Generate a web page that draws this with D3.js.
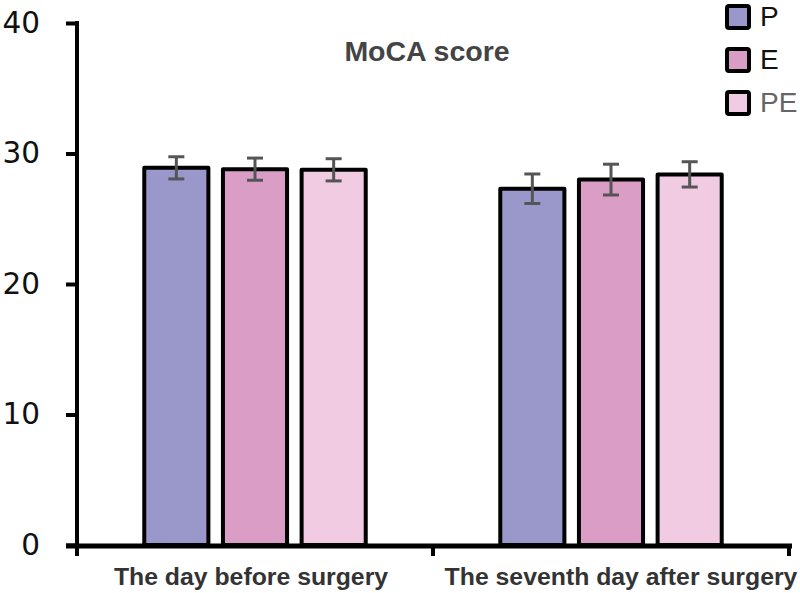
<!DOCTYPE html>
<html>
<head>
<meta charset="utf-8">
<script src="https://cdn.jsdelivr.net/npm/d3@7/dist/d3.min.js"></script>
<style>
  html, body { margin: 0; padding: 0; background: #fff; }
  svg { display: block; }
</style>
</head>
<body>
<svg id="chart" width="800" height="593"></svg>
<script>
// ---- data ----
const categories = ["The day before surgery", "The seventh day after surgery"];
const seriesNames = ["P", "E", "PE"];
const valuesP  = [28.9, 27.3];
const valuesE  = [28.8, 28.0];
const valuesPE = [28.75, 28.4];
const errP  = [0.85, 1.13];
const errE  = [0.85, 1.18];
const errPE = [0.85, 0.97];
const yTicks = [0, 10, 20, 30, 40];
const colors = ["#9a98cb", "#d99dc6", "#f0cbe2"];

const seriesValues = [valuesP, valuesE, valuesPE];
const seriesErr = [errP, errE, errPE];

const svg = d3.select("#chart");

const x0 = d3.scaleBand().domain(categories).range([77, 789]).padding(0);
const innerPad = 60;
const x1 = d3.scaleBand().domain(seriesNames)
  .range([innerPad, x0.bandwidth() - innerPad])
  .paddingInner(0.185).paddingOuter(0.0925);
const y = d3.scaleLinear().domain([0, 40]).range([545, 23]);
const color = d3.scaleOrdinal().domain(seriesNames).range(colors);

const data = [];
categories.forEach((c, ci) => {
  seriesNames.forEach((s, si) => {
    data.push({cat: c, s: s, v: seriesValues[si][ci], e: seriesErr[si][ci]});
  });
});

// bars
svg.append("g").selectAll("rect").data(data).join("rect")
  .attr("x", d => x0(d.cat) + x1(d.s))
  .attr("y", d => y(d.v))
  .attr("width", x1.bandwidth())
  .attr("height", d => y(0) - y(d.v))
  .attr("fill", d => color(d.s))
  .attr("stroke", "#000")
  .attr("stroke-width", 4)
  .attr("stroke-linejoin", "round");

// error bars
const eb = svg.append("g").attr("stroke", "#555").attr("stroke-width", 3);
data.forEach(d => {
  const cx = x0(d.cat) + x1(d.s) + x1.bandwidth() / 2;
  eb.append("line").attr("x1", cx).attr("x2", cx).attr("y1", y(d.v + d.e)).attr("y2", y(d.v - d.e));
  eb.append("line").attr("x1", cx - 8).attr("x2", cx + 8).attr("y1", y(d.v + d.e)).attr("y2", y(d.v + d.e));
  eb.append("line").attr("x1", cx - 8).attr("x2", cx + 8).attr("y1", y(d.v - d.e)).attr("y2", y(d.v - d.e));
});

// y axis
const yAxis = d3.axisLeft(y).tickValues(yTicks).tickSize(11).tickPadding(26);
const gy = svg.append("g").attr("transform", "translate(77,0)").call(yAxis);
gy.select(".domain").remove();
gy.selectAll(".tick line").attr("stroke", "#000").attr("stroke-width", 4);
gy.selectAll(".tick text")
  .attr("font-family", "DejaVu Sans, sans-serif")
  .attr("font-size", 29.5)
  .attr("fill", "#111");
svg.append("line")
  .attr("x1", 77).attr("x2", 77)
  .attr("y1", y(40) - 2).attr("y2", y(0) + 9)
  .attr("stroke", "#000").attr("stroke-width", 4);

// x axis
const xEdges = categories.map(c => x0(c)).concat([x0.range()[1]]);
svg.append("line")
  .attr("x1", 66).attr("x2", x0.range()[1] + 3)
  .attr("y1", y(0) + 1).attr("y2", y(0) + 1)
  .attr("stroke", "#000").attr("stroke-width", 5);
svg.append("g").selectAll("line").data(xEdges).join("line")
  .attr("x1", d => d).attr("x2", d => d)
  .attr("y1", y(0)).attr("y2", y(0) + 11)
  .attr("stroke", "#000").attr("stroke-width", 4);

const labelDx = [-4, 10];
svg.append("g").selectAll("text").data(categories).join("text")
  .attr("x", (d, i) => x0(d) + x0.bandwidth() / 2 + labelDx[i])
  .attr("y", 585)
  .attr("text-anchor", "middle")
  .attr("font-family", "Liberation Sans, Arial, sans-serif")
  .attr("font-weight", "bold")
  .attr("font-size", 24.8)
  .attr("fill", "#333")
  .text(d => d);

// title
svg.append("text")
  .attr("x", 427).attr("y", 61)
  .attr("text-anchor", "middle")
  .attr("font-family", "Liberation Sans, Arial, sans-serif")
  .attr("font-weight", "bold")
  .attr("font-size", 28.5)
  .attr("fill", "#444")
  .text("MoCA score");

// legend
const legend = svg.append("g");
const legendTextColors = ["#111", "#111", "#666"];
seriesNames.forEach((s, i) => {
  const ly = 6 + i * 43;
  legend.append("rect")
    .attr("x", 727).attr("y", ly).attr("width", 22).attr("height", 22)
    .attr("rx", 2)
    .attr("fill", color(s)).attr("stroke", "#000").attr("stroke-width", 4);
  legend.append("text")
    .attr("x", 760).attr("y", ly + 20)
    .attr("font-family", "Liberation Sans, Arial, sans-serif")
    .attr("font-size", 28)
    .attr("fill", legendTextColors[i])
    .text(s);
});
</script>
</body>
</html>
